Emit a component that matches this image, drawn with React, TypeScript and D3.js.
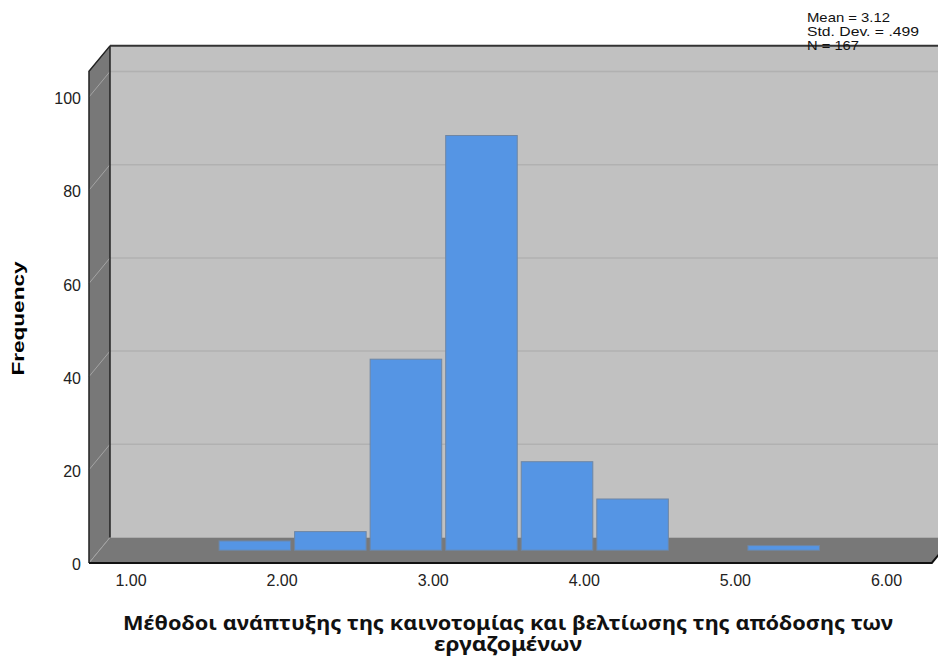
import React from "react";
import * as d3 from "d3";

const binLow = [1.5, 2.0, 2.5, 3.0, 3.5, 4.0, 5.0];
const binHigh = [2.0, 2.5, 3.0, 3.5, 4.0, 4.5, 5.5];
const counts = [2, 4, 41, 89, 19, 11, 1];
const xTicks = [1, 2, 3, 4, 5, 6];
const yTicks = [0, 20, 40, 60, 80, 100];
const statsLines = ["Mean = 3.12", "Std. Dev. = .499", "N = 167"];
const statsWidths = [83, 112, 52];
const xTitleLines = [
  "Μέθοδοι ανάπτυξης της καινοτομίας και βελτίωσης της απόδοσης των",
  "εργαζομένων",
];
const xTitleWidths = [770, 148];
const yTitle = "Frequency";
const xDomain = [0.722, 6.3];
const yMaxFrame = 105.5;

export default function App() {
  const W = 938, H = 659;
  const xF = d3.scaleLinear().domain([1, 6]).range([131, 886.5]);
  const yF = d3.scaleLinear().domain([0, 100]).range([563, 97]);
  const DX = 21, DY = -25.5;
  const yB = (v: number) => yF(v) + DY;
  const xM = (v: number) => xF(v) + DX / 2;
  const yM = (v: number) => yF(v) + DY / 2;

  const fx0 = xF(xDomain[0]);
  const fx1 = xF(xDomain[1]);
  const fyTop = yF(yMaxFrame);
  const fy0 = yF(0);

  const sans = "'Liberation Sans', Arial, sans-serif";

  return (
    <svg
      width={W}
      height={H}
      style={{ position: "absolute", left: 0, top: 0, background: "#fff" }}
    >
      {/* back wall */}
      <rect
        x={fx0 + DX}
        y={fyTop + DY}
        width={fx1 - fx0}
        height={fy0 - fyTop}
        fill="#c1c1c1"
      />
      {yTicks.slice(1).map((t) => (
        <line
          key={"g" + t}
          x1={fx0 + DX}
          x2={fx1 + DX}
          y1={yB(t)}
          y2={yB(t)}
          stroke="#b1b1b1"
          strokeWidth={1.5}
        />
      ))}
      {/* left side panel */}
      <polygon
        points={`${fx0},${fyTop} ${fx0 + DX},${fyTop + DY} ${fx0 + DX},${fy0 + DY} ${fx0},${fy0}`}
        fill="#787878"
      />
      {yTicks.map((t) => (
        <line
          key={"s" + t}
          x1={fx0}
          y1={yF(t)}
          x2={fx0 + DX}
          y2={yB(t)}
          stroke="#a4a4a4"
          strokeWidth={1}
        />
      ))}
      {/* floor */}
      <polygon
        points={`${fx0},${fy0} ${fx0 + DX},${fy0 + DY} ${fx1 + DX},${fy0 + DY} ${fx1},${fy0}`}
        fill="#787878"
      />
      <line x1={fx0} y1={fy0} x2={fx0 + DX} y2={fy0 + DY} stroke="#a4a4a4" strokeWidth={1} />
      {/* edges */}
      <line x1={fx0 + DX} y1={fyTop + DY} x2={fx0 + DX} y2={fy0 + DY} stroke="#222" strokeWidth={1.5} />
      <line x1={fx0 + DX} y1={fyTop + DY} x2={fx1 + DX} y2={fyTop + DY} stroke="#333" strokeWidth={2} />
      <polyline
        points={`${fx0},${fy0} ${fx0},${fyTop} ${fx0 + DX},${fyTop + DY}`}
        fill="none"
        stroke="#222"
        strokeWidth={1.5}
      />
      <polyline
        points={`${fx0},${fy0} ${fx1},${fy0} ${fx1 + DX},${fy0 + DY}`}
        fill="none"
        stroke="#111"
        strokeWidth={2}
      />
      {/* bars */}
      {counts.map((c, i) => (
        <rect
          key={"b" + i}
          x={xM(binLow[i]) + 2}
          y={yM(c)}
          width={xM(binHigh[i]) - xM(binLow[i]) - 4}
          height={yM(0) - yM(c)}
          fill="#5595e4"
          stroke="#6f86a3"
          strokeWidth={1}
        />
      ))}
      {/* y tick labels */}
      {yTicks.map((t) => (
        <text
          key={"yt" + t}
          x={81}
          y={yF(t) + 3}
          textAnchor="end"
          dominantBaseline="middle"
          fontFamily={sans}
          fontSize={16}
          fill="#222"
        >
          {t}
        </text>
      ))}
      {/* x tick labels */}
      {xTicks.map((t) => (
        <text
          key={"xt" + t}
          x={xF(t)}
          y={582}
          textAnchor="middle"
          dominantBaseline="middle"
          fontFamily={sans}
          fontSize={16}
          fill="#222"
        >
          {t.toFixed(2)}
        </text>
      ))}
      {/* y title */}
      <text
        transform="translate(23.5,318.5) rotate(-90)"
        textAnchor="middle"
        fontFamily={sans}
        fontWeight="bold"
        fontSize={16.5}
        textLength={114}
        lengthAdjust="spacingAndGlyphs"
        fill="#000"
      >
        {yTitle}
      </text>
      {/* x title */}
      {xTitleLines.map((s, i) => (
        <text
          key={"xl" + i}
          x={508}
          y={630 + i * 21}
          textAnchor="middle"
          fontFamily="'Noto Sans', 'Open Sans', sans-serif"
          fontWeight="bold"
          fontSize={19.5}
          textLength={xTitleWidths[i]}
          lengthAdjust="spacingAndGlyphs"
          fill="#111"
        >
          {s}
        </text>
      ))}
      {/* stats */}
      {statsLines.map((s, i) => (
        <text
          key={"st" + i}
          x={807}
          y={22 + i * 14}
          fontFamily={sans}
          fontSize={13.5}
          textLength={statsWidths[i]}
          lengthAdjust="spacingAndGlyphs"
          fill="#111"
        >
          {s}
        </text>
      ))}
    </svg>
  );
}
